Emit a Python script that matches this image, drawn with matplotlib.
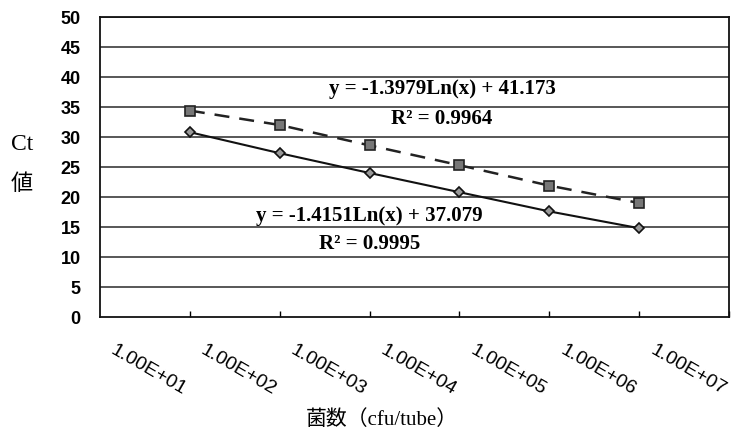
import matplotlib
matplotlib.use("Agg")
import matplotlib.pyplot as plt
import matplotlib.transforms as mtransforms
import numpy as np

# 菌数 (cfu/tube) と Ct 値
cfu = [1e1, 1e2, 1e3, 1e4, 1e5, 1e6]
ct_solid = [30.8, 27.3, 24.0, 20.8, 17.6, 14.8]
ct_dashed = [34.4, 32.0, 28.6, 25.3, 21.9, 19.0]

xticks = [1e1, 1e2, 1e3, 1e4, 1e5, 1e6, 1e7]
xlabels = ["1.00E+01", "1.00E+02", "1.00E+03", "1.00E+04",
           "1.00E+05", "1.00E+06", "1.00E+07"]
yticks = list(range(0, 55, 5))

eq_dashed = "y = -1.3979Ln(x) + 41.173"
r2_dashed = "R² = 0.9964"
eq_solid = "y = -1.4151Ln(x) + 37.079"
r2_solid = "R² = 0.9995"

W, H = 732, 433
fig = plt.figure(figsize=(W / 100, H / 100), dpi=100)
ax = fig.add_axes([100 / W, (H - 317) / H, 629 / W, 300 / H])

for y in yticks[1:]:
    ax.axhline(y, color="#2a2a2a", lw=1.1, zorder=1)

ax.plot(cfu, ct_dashed, color="#222222", lw=1.8, dashes=(6, 4),
        marker="s", ms=6.5, mfc="#777777", mec="#222222", mew=1.2, zorder=3)
ax.plot(cfu, ct_solid, color="#111111", lw=1.5,
        marker="D", ms=5, mfc="#999999", mec="#111111", mew=1.2, zorder=3)

ax.set_xscale("log")
ax.set_xlim(1, 1e7)
ax.set_ylim(0, 50)
ax.minorticks_off()
ax.set_xticks(xticks)
ax.set_xticklabels(xlabels, rotation=-30, ha="right", va="baseline",
                   rotation_mode="anchor", fontsize=14,
                   family="Liberation Sans")
ax.tick_params(axis="x", direction="in", length=4, width=1, pad=56)
# pull the slanted labels back so they end under their tick
shift = mtransforms.ScaledTranslation(-7 / 100, 0, fig.dpi_scale_trans)
for lab in ax.get_xticklabels():
    lab.set_transform(lab.get_transform() + shift)
ax.set_yticks(yticks)
ax.set_yticklabels([str(v) for v in yticks], fontsize=13,
                   fontweight="bold", family="Liberation Sans")
ax.tick_params(axis="y", length=0, pad=14)
for s in ax.spines.values():
    s.set_color("#111111")
    s.set_linewidth(1.3)

def px(x, y):
    return x / W, 1 - y / H

eq_kw = dict(fontsize=15, fontweight="bold", family="Liberation Serif",
             ha="center", va="center")
fig.text(*px(442, 89), eq_dashed, **eq_kw)
fig.text(*px(442, 119), r2_dashed, **eq_kw)
fig.text(*px(369, 216), eq_solid, **eq_kw)
fig.text(*px(370, 244), r2_solid, **eq_kw)

fig.text(*px(22, 144), "Ct", fontsize=17, family="Liberation Serif",
         ha="center", va="center")
fig.text(*px(22, 184), "値", fontsize=16,
         family=["Noto Sans CJK JP", "DejaVu Sans"], ha="center", va="center")
fig.text(*px(382, 420), "菌数（cfu/tube）", fontsize=15,
         family=["Liberation Serif", "Noto Sans CJK JP"],
         ha="center", va="center")

fig.savefig("out.png", dpi=100, facecolor="white")
